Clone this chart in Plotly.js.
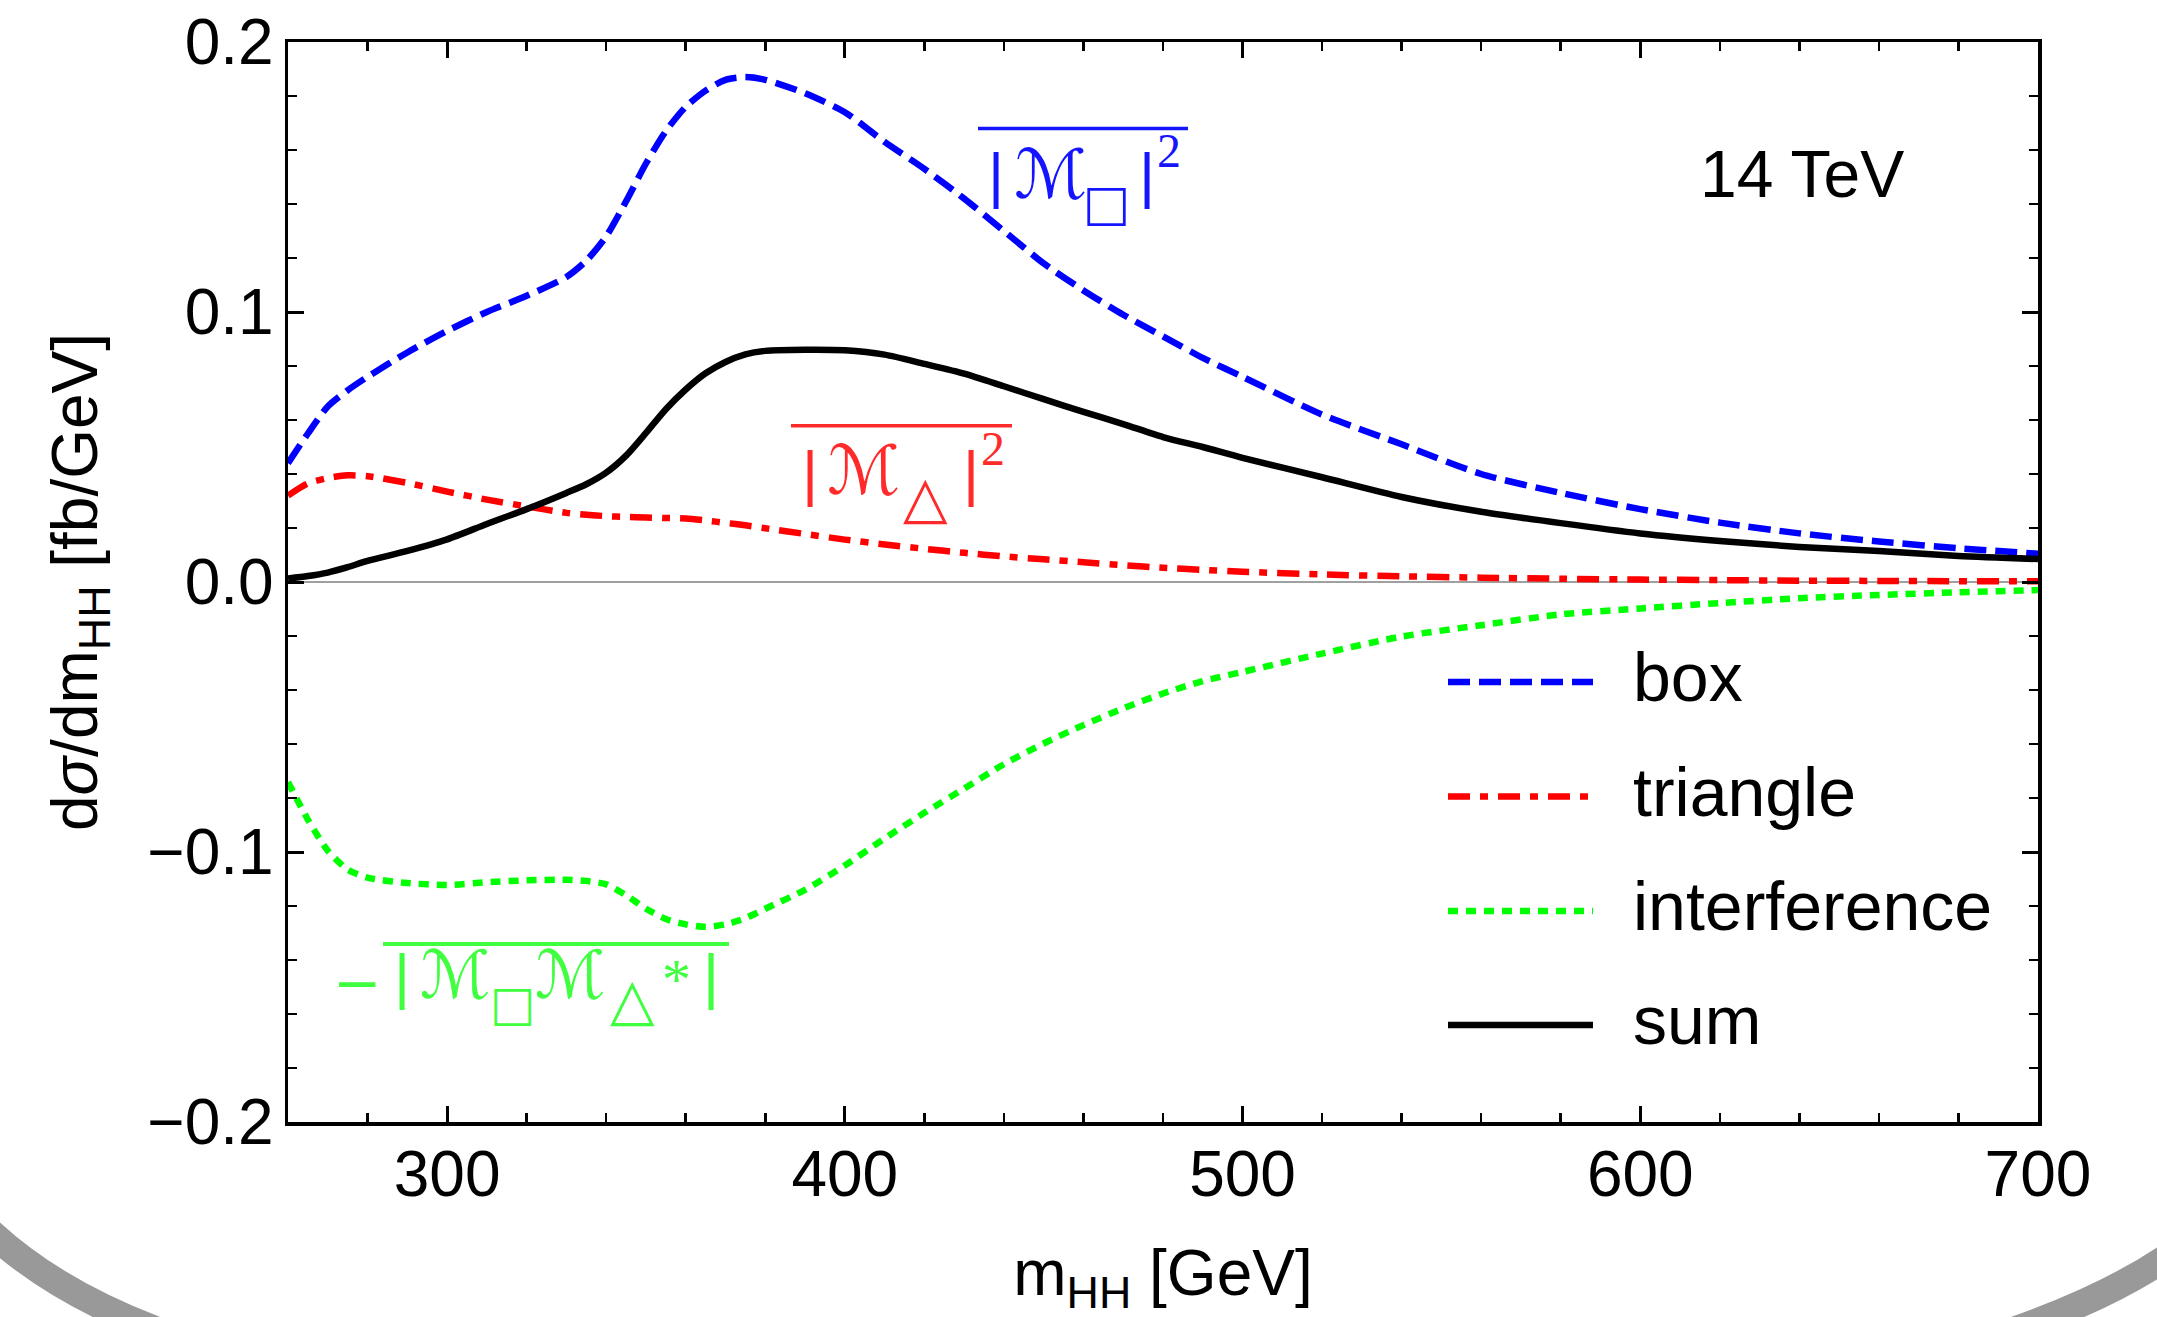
<!DOCTYPE html>
<html><head><meta charset="utf-8">
<script src="https://cdn.plot.ly/plotly-3.0.1.min.js"></script>
<style>html,body{margin:0;padding:0;background:#fff}</style>
</head><body><div id="chart" style="width:2157px;height:1317px"></div>
<script>
// ---- data ----
const mHH = [260,265,270,275,280,290,300,310,320,330,335,340,345,350,355,360,365,370,375,380,390,400,410,420,430,440,450,460,470,480,490,500,520,540,560,580,600,620,640,660,680,700];
const boxVals = [0.044,0.055,0.065,0.071,0.076,0.085,0.093,0.100,0.106,0.113,0.119,0.128,0.141,0.155,0.167,0.176,0.182,0.186,0.187,0.186,0.181,0.174,0.163,0.153,0.142,0.130,0.118,0.108,0.099,0.091,0.083,0.076,0.062,0.051,0.040,0.033,0.027,0.022,0.018,0.015,0.0125,0.0105];
const triangleVals = [0.032,0.0365,0.0385,0.0395,0.0392,0.0367,0.0335,0.0305,0.028,0.0256,0.0249,0.0244,0.0241,0.0239,0.0237,0.0235,0.0228,0.0219,0.021,0.0199,0.0178,0.0157,0.0139,0.0123,0.0108,0.0095,0.0084,0.0073,0.0062,0.0053,0.0045,0.0038,0.0028,0.0021,0.0016,0.0012,0.0009,0.0007,0.0005,0.0004,0.0003,0.0003];
const interferenceVals = [-0.0741,-0.088,-0.0995,-0.1065,-0.1095,-0.1115,-0.1122,-0.1112,-0.1105,-0.1103,-0.1107,-0.112,-0.116,-0.121,-0.1248,-0.1268,-0.1277,-0.1268,-0.1245,-0.121,-0.114,-0.105,-0.095,-0.0855,-0.0765,-0.0675,-0.0598,-0.053,-0.0468,-0.0413,-0.0367,-0.0333,-0.0265,-0.0202,-0.016,-0.012,-0.0098,-0.0078,-0.006,-0.0048,-0.0038,-0.003];
const sumVals = [0.0013,0.0022,0.0035,0.0055,0.0078,0.0115,0.0158,0.0215,0.027,0.033,0.0362,0.0405,0.0468,0.0552,0.064,0.0713,0.0773,0.0815,0.0843,0.0856,0.086,0.0858,0.0842,0.0808,0.0772,0.0725,0.0677,0.063,0.0585,0.0537,0.05,0.046,0.0388,0.0315,0.026,0.0218,0.018,0.0152,0.013,0.0115,0.0096,0.0085];
const seriesNames = ['box','triangle','interference','sum'];
const xTickVals = [300,400,500,600,700];
const yTickVals = [-0.2,-0.1,0,0.1,0.2];
const energyLabel = '14 TeV';

// ---- styling ----
const SANS = 'Liberation Sans, Arial, Helvetica, sans-serif';
const SERIF = 'Liberation Serif, Times New Roman, serif';
const SCRIPT = 'DejaVu Serif, DejaVu Sans, serif';
const SYM = 'DejaVu Sans, sans-serif';
const W = 2157, H = 1317, L = 288, R = 2038, T = 42, B = 1122;
const px = x => (x - L) / (R - L);
const py = y => (B - y) / (B - T);

const styles = [
  {color:'#0000ff', width:6.5, dash:'22px,9px'},
  {color:'#ff0000', width:6.5, dash:'22px,10px,8px,10px'},
  {color:'#00ff00', width:6.5, dash:'10px,8px'},
  {color:'#000000', width:6.5, dash:'solid'}
];
const seriesData = [boxVals, triangleVals, interferenceVals, sumVals];

const traces = seriesData.map((v, i) => ({
  x: mHH, y: v, type:'scatter', mode:'lines', name: seriesNames[i],
  line: Object.assign({shape:'spline', smoothing:0.7}, styles[i]),
  showlegend:false, hoverinfo:'skip'
}));

function txt(t, cx, base, size, color, family, anchor){
  return {xref:'paper', yref:'paper', x:px(cx), y:py(base - 0.345*size),
    xanchor: anchor || 'center', yanchor:'middle', text:t, showarrow:false,
    borderpad:0, font:{size:size, color:color, family:family}};
}

const annotations = [];
const shapes = [];

// legend
const legRows = [682, 796.5, 911, 1025];
seriesNames.forEach((n, i) => {
  shapes.push({type:'line', xref:'paper', yref:'paper', x0:px(1448), x1:px(1593), y0:py(legRows[i]), y1:py(legRows[i]),
    line:{color:styles[i].color, width:styles[i].width, dash:styles[i].dash}});
  annotations.push(txt(n, 1632, legRows[i] + 18.5, 68, '#000', SANS, 'left'));
});

// 14 TeV
annotations.push(txt(energyLabel, 1802, 197, 66, '#000', SANS, 'center'));

// blue label |M_box|^2
const cB = '#1414ff';
shapes.push({type:'line', xref:'paper', yref:'paper', x0:px(978), x1:px(1188), y0:py(128.5), y1:py(128.5), line:{color:cB, width:3.5}});
annotations.push(txt('|', 995.5, 196, 62, cB, SANS));
annotations.push(txt('ℳ', 1050, 198, 68, cB, SCRIPT));
annotations.push(txt('□', 1106.5, 220, 50, cB, SYM));
annotations.push(txt('|', 1146.5, 196, 62, cB, SANS));
annotations.push(txt('2', 1169, 167, 48, cB, SERIF));

// red label |M_tri|^2
const cR = '#ff2a2a';
shapes.push({type:'line', xref:'paper', yref:'paper', x0:px(791), x1:px(1012), y0:py(425.7), y1:py(425.7), line:{color:cR, width:3.5}});
annotations.push(txt('|', 809.5, 494, 62, cR, SANS));
annotations.push(txt('ℳ', 863.5, 494, 68, cR, SCRIPT));
annotations.push(txt('△', 925, 517, 58, cR, SYM));
annotations.push(txt('|', 970.5, 494, 62, cR, SANS));
annotations.push(txt('2', 993, 465, 48, cR, SERIF));

// green label -|M_box M_tri*|
const cG = '#40ff40';
shapes.push({type:'line', xref:'paper', yref:'paper', x0:px(383), x1:px(729), y0:py(944), y1:py(944), line:{color:cG, width:4}});
annotations.push(txt('−', 357, 1003, 58, cG, SYM));
annotations.push(txt('|', 401.5, 997, 62, cG, SANS));
annotations.push(txt('ℳ', 455, 998, 66, cG, SCRIPT));
annotations.push(txt('□', 512, 1020, 48, cG, SYM));
annotations.push(txt('ℳ', 570, 998, 66, cG, SCRIPT));
annotations.push(txt('△', 632, 1019, 58, cG, SYM));
annotations.push(txt('*', 676, 1000, 58, cG, SERIF));
annotations.push(txt('|', 710.5, 997, 62, cG, SANS));

// decorative gray arcs at the bottom corners
const pp = (x, y) => px(x).toFixed(5) + ',' + py(y).toFixed(5);
shapes.push({type:'path', xref:'paper', yref:'paper', layer:'below',
  path:'M' + pp(-20,1222) + ' Q' + pp(50,1292) + ' ' + pp(170,1335), line:{color:'#999999', width:27}});
shapes.push({type:'path', xref:'paper', yref:'paper', layer:'below',
  path:'M' + pp(2177,1250) + ' Q' + pp(2110,1298) + ' ' + pp(2000,1335), line:{color:'#999999', width:27}});

const axisCommon = {
  showline:true, linecolor:'#000', linewidth:3.5, mirror:'allticks',
  ticks:'inside', ticklen:16, tickwidth:3, tickcolor:'#000',
  showgrid:false, tickfont:{family:SANS, size:64, color:'#000'},
};

const layout = {
  width:W, height:H,
  margin:{l:L, r:W-R, t:T, b:H-B, pad:0},
  paper_bgcolor:'#fff', plot_bgcolor:'#fff',
  showlegend:false,
  xaxis: Object.assign({}, axisCommon, {
    range:[260,700], tickmode:'array', tickvals:xTickVals,
    minor:{dtick:20, tick0:0, ticks:'inside', ticklen:9, tickwidth:2.5, tickcolor:'#000', showgrid:false},
    zeroline:false, ticklabelstandoff:-6,
    title:{text:'m<sub>HH</sub> [GeV]', font:{family:SANS, size:64, color:'#000'}, standoff:58}
  }),
  yaxis: Object.assign({}, axisCommon, {
    range:[-0.2,0.2], tickmode:'array', tickvals:yTickVals, tickformat:'.1f',
    minor:{dtick:0.02, tick0:0, ticks:'inside', ticklen:9, tickwidth:2.5, tickcolor:'#000', showgrid:false},
    zeroline:true, zerolinecolor:'#a0a0a0', zerolinewidth:1.5, ticklabelstandoff:-2,
    title:{text:'d<i>σ</i>/dm<sub>HH</sub> [fb/GeV]', font:{family:SANS, size:64, color:'#000'}, standoff:30}
  }),
  shapes: shapes,
  annotations: annotations
};

Plotly.newPlot('chart', traces, layout, {staticPlot:true, displayModeBar:false});
</script>
</body></html>
